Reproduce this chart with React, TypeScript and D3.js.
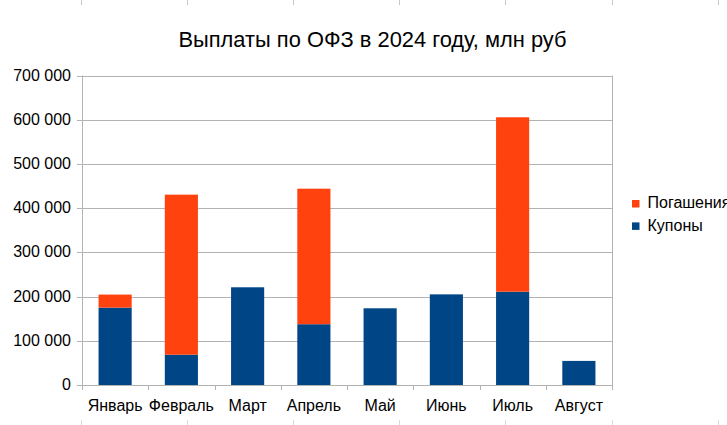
import React from "react";
import * as d3 from "d3";

const months = ["Январь", "Февраль", "Март", "Апрель", "Май", "Июнь", "Июль", "Август"];
const coupons = [175000, 68500, 221000, 137500, 173500, 205000, 211000, 54500];
const redemptions = [29500, 362000, 0, 306500, 0, 0, 394500, 0];
const yTicks = [0, 100000, 200000, 300000, 400000, 500000, 600000, 700000];
const seriesNames = ["Погашения", "Купоны"];
const colors = { coupons: "#004586", redemptions: "#ff420e" };

const W = 727, H = 425;
const left = 82, right = 612, top = 75.5, bottom = 385;

export default function App() {
  const x = d3.scaleBand<string>().domain(months).range([left, right]).paddingInner(0).paddingOuter(0);
  const y = d3.scaleLinear().domain([0, 700000]).range([bottom, top]);
  const bw = x.bandwidth() * 0.5;
  const fmt = (v: number) => d3.format(",")(v).replace(/,/g, " ");
  const font = "'Liberation Sans', Arial, sans-serif";
  const cellTicks = d3.range(7).map((i) => Math.round(81 + 106.1 * i));

  return (
    <svg width={W} height={H} style={{ position: "absolute", left: 0, top: 0, background: "#fff" }} fontFamily={font}>
      {cellTicks.map((t, i) => (
        <line key={"tt" + i} x1={t + 0.5} x2={t + 0.5} y1={0} y2={5} stroke="#c8c8c8" />
      ))}
      {cellTicks.map((t, i) => (
        <line key={"bt" + i} x1={t + 0.5} x2={t + 0.5} y1={420} y2={425} stroke="#d9d9d9" />
      ))}
      <text x={372.5} y={47} textAnchor="middle" fontSize={21.5} textLength={388} lengthAdjust="spacingAndGlyphs" fill="#000">Выплаты по ОФЗ в 2024 году, млн руб</text>
      {yTicks.map((t) => (
        <g key={t}>
          <line x1={left - 5} x2={right} y1={Math.round(y(t)) + 0.5} y2={Math.round(y(t)) + 0.5} stroke="#b3b3b3" />
          <text x={71} y={y(t) + 5} textAnchor="end" fontSize={16} fill="#000">{fmt(t)}</text>
        </g>
      ))}
      <line x1={left + 0.5} x2={left + 0.5} y1={top} y2={bottom + 5} stroke="#b3b3b3" />
      <line x1={right + 0.5} x2={right + 0.5} y1={top} y2={bottom + 5} stroke="#b3b3b3" />
      {months.map((m, i) => {
        const cx = (x(m) as number) + x.bandwidth() / 2;
        return (
          <g key={m}>
            <line x1={Math.round(x(m) as number) + 0.5} x2={Math.round(x(m) as number) + 0.5} y1={bottom} y2={bottom + 5} stroke="#b3b3b3" />
            <rect x={cx - bw / 2} width={bw} y={y(coupons[i])} height={y(0) - y(coupons[i])} fill={colors.coupons} />
            {redemptions[i] > 0 && (
              <rect x={cx - bw / 2} width={bw} y={y(coupons[i] + redemptions[i])} height={y(coupons[i]) - y(coupons[i] + redemptions[i])} fill={colors.redemptions} />
            )}
            <text x={cx} y={410.5} textAnchor="middle" fontSize={16} fill="#000">{m}</text>
          </g>
        );
      })}
      {seriesNames.map((s, i) => (
        <g key={s}>
          <rect x={632} y={200 + i * 22.4} width={7.5} height={7.5} fill={i === 0 ? colors.redemptions : colors.coupons} />
          <text x={647.5} y={208.3 + i * 22.4} fontSize={16} fill="#000">{s}</text>
        </g>
      ))}
    </svg>
  );
}
